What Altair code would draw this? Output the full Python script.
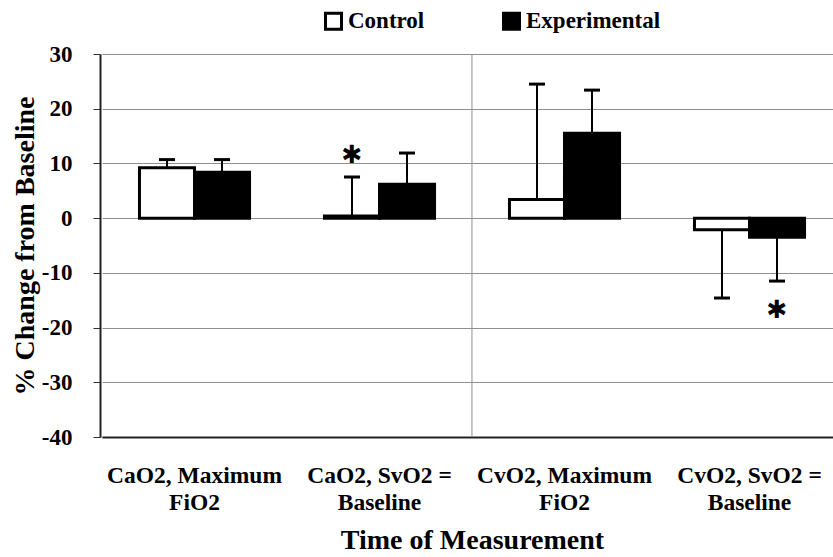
import altair as alt
import pandas as pd

categories = ["CaO2, Maximum\nFiO2", "CaO2, SvO2 =\nBaseline",
              "CvO2, Maximum\nFiO2", "CvO2, SvO2 =\nBaseline"]
series = ["Control", "Experimental"]
control_mean = [9.2, 0.4, 3.4, -2.1]
control_sd = [1.5, 7.1, 21.1, 12.5]
exp_mean = [8.4, 6.2, 15.5, -3.5]
exp_sd = [2.3, 5.7, 7.9, 8.0]
star_cat = [categories[1], categories[3]]
star_series = ["Control", "Experimental"]
star_y = [11.5, -16.8]
y_ticks = [-40, -30, -20, -10, 0, 10, 20, 30]

rows = []
for i, c in enumerate(categories):
    for s, m, sd in (("Control", control_mean[i], control_sd[i]),
                     ("Experimental", exp_mean[i], exp_sd[i])):
        end = m + sd if m >= 0 else m - sd
        rows.append({"category": c, "series": s, "mean": m, "err_end": end})
df = pd.DataFrame(rows)
stars = pd.DataFrame({"category": star_cat, "series": star_series, "y": star_y})
divider = pd.DataFrame({"category": [categories[2]]})

FONT = "'Liberation Serif', 'Times New Roman', serif"

xscale = alt.Scale(domain=categories, range=[2, 742], paddingInner=0.405, paddingOuter=0.2025)
xenc = alt.X("category:N", sort=categories, scale=xscale,
             axis=alt.Axis(title="Time of Measurement", labelAngle=0, labelAlign="center",
                           labelExpr="split(datum.label, '\\n')",
                           labelFont=FONT, labelFontWeight="bold", labelFontSize=23.5,
                           labelLineHeight=27, labelColor="black",
                           labelBaseline="top", labelPadding=26.5,
                           ticks=False, tickSize=0, domainColor="#222", domainWidth=2,
                           titleFont=FONT, titleFontWeight="bold", titleFontSize=28,
                           titleColor="black", titleBaseline="alphabetic", titleY=111))
xoff = alt.XOffset("series:N", sort=series,
                   scale=alt.Scale(domain=series, paddingInner=0, paddingOuter=0))
yscale = alt.Scale(domain=[-40, 30], nice=False, zero=False)
yaxis = alt.Axis(values=y_ticks, title="% Change from Baseline",
                 labelExpr="toString(datum.value)",
                 labelFont=FONT, labelFontWeight="bold", labelFontSize=23,
                 labelColor="black", labelPadding=21, tickSize=7, tickColor="#333",
                 domainColor="#222", domainWidth=2,
                 grid=True, gridColor="#8f8f8f", gridWidth=1,
                 titleFont=FONT, titleFontWeight="bold", titleFontSize=28,
                 titleColor="black", titleAngle=-90, titleX=-75, titleY=191.5,
                 titleAlign="center", titleBaseline="middle")

bars = alt.Chart(df).mark_bar(stroke="black", strokeWidth=3).encode(
    x=xenc, xOffset=xoff,
    y=alt.Y("mean:Q", scale=yscale, axis=yaxis),
    y2=alt.datum(0),
    fill=alt.Fill("series:N", sort=series,
                  scale=alt.Scale(domain=series, range=["white", "black"]),
                  legend=alt.Legend(title=None, orient="none", direction="horizontal",
                                    legendX=222, legendY=-44.5, padding=0,
                                    symbolType="square", symbolSize=256,
                                    symbolStrokeColor="black", symbolStrokeWidth=3,
                                    symbolOpacity=1, labelOffset=3,
                                    columnPadding=72,
                                    labelFont=FONT, labelFontWeight="bold",
                                    labelFontSize=23, labelColor="black")),
)

err = alt.Chart(df).mark_rule(color="black", strokeWidth=2).encode(
    x=xenc, xOffset=xoff,
    y=alt.Y("mean:Q", scale=yscale), y2="err_end:Q")

caps = alt.Chart(df).mark_tick(color="black", thickness=3, size=16, opacity=1).encode(
    x=xenc, xOffset=xoff, y=alt.Y("err_end:Q", scale=yscale))

star_marks = alt.Chart(stars).mark_text(text="\u2731", font="DejaVu Sans", fontSize=25,
                                        baseline="middle", align="center", color="black").encode(
    x=xenc, xOffset=xoff, y=alt.Y("y:Q", scale=yscale))

div = alt.Chart(divider).mark_rule(color="#8f8f8f", strokeWidth=1, xOffset=-37.5).encode(
    x=alt.X("category:N", sort=categories, scale=xscale, bandPosition=0))

chart = alt.layer(div, bars, err, caps, star_marks).properties(
    width=733, height=383,
    autosize=alt.AutoSizeParams(type="none"),
    padding={"left": 100, "top": 54, "right": 0, "bottom": 120},
).configure_view(stroke=None).configure(background="white", font=FONT)

chart.save("out.html", embed_options={"renderer": "svg", "actions": False})
